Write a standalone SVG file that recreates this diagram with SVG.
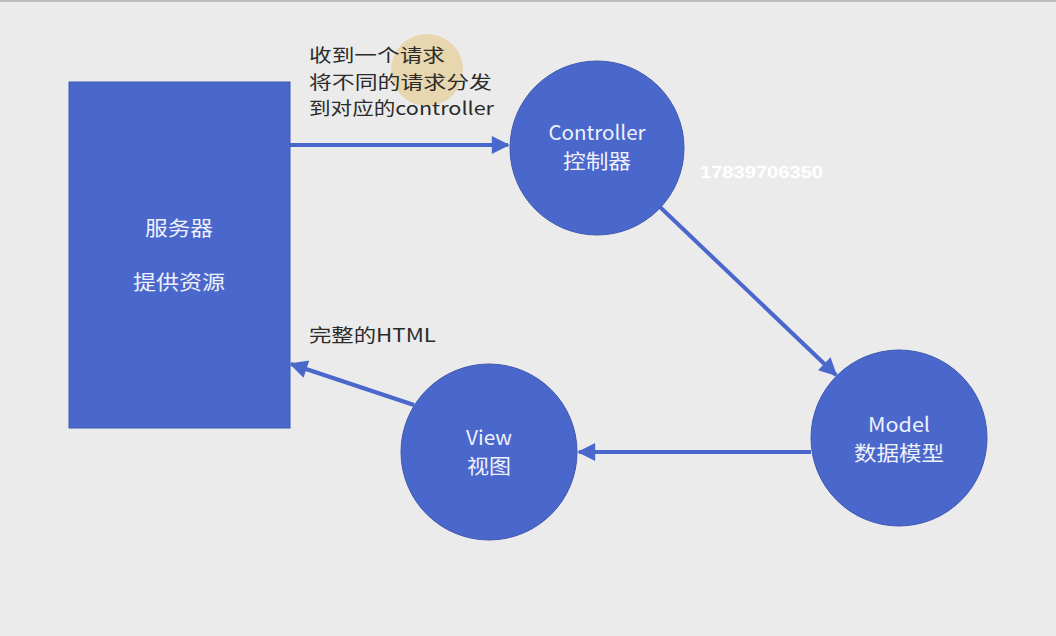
<svg xmlns="http://www.w3.org/2000/svg" width="1056" height="636" viewBox="0 0 1056 636">
<style>
.node{fill:#4a67cb;stroke:#3f58b0;stroke-width:1}
.lbl{font-family:"Noto Sans CJK SC","Liberation Sans",sans-serif;font-size:20px;fill:#eef1fb;text-anchor:middle}
.note{font-family:"Noto Sans CJK SC","Liberation Sans",sans-serif;font-size:18px;fill:#2b2b2b}
.conn{stroke:#4a67cb;stroke-width:4;fill:none}
</style>
<defs>
<marker id="ah" viewBox="0 0 10 10" refX="9" refY="5" markerWidth="4.8" markerHeight="4.5" markerUnits="strokeWidth" orient="auto">
<path d="M0,0 L10,5 L0,10 z" fill="#4a67cb"/>
</marker>
</defs>
<rect width="1056" height="636" fill="#ebebec"/>
<rect width="1056" height="2" fill="#bcbcbc"/>
<circle cx="427" cy="70" r="36" fill="#e3c270" fill-opacity="0.5"/>
<g id="connectors">
<line class="conn" x1="290" y1="145" x2="508" y2="145" marker-end="url(#ah)"/>
<line class="conn" x1="660" y1="207" x2="836" y2="375" marker-end="url(#ah)"/>
<line class="conn" x1="811" y1="452" x2="579" y2="452" marker-end="url(#ah)"/>
<line class="conn" x1="414" y1="405" x2="291" y2="364" marker-end="url(#ah)"/>
</g>
<g id="server">
<rect class="node" x="69" y="82" width="221" height="346"/>
<text class="lbl" x="179" y="236" textLength="68" lengthAdjust="spacingAndGlyphs">服务器</text>
<text class="lbl" x="179" y="290" textLength="92" lengthAdjust="spacingAndGlyphs">提供资源</text>
</g>
<g id="controller">
<circle class="node" cx="597" cy="148" r="87"/>
<text class="lbl" x="597" y="140" textLength="97" lengthAdjust="spacingAndGlyphs">Controller</text>
<text class="lbl" x="597" y="169" textLength="68" lengthAdjust="spacingAndGlyphs">控制器</text>
</g>
<g id="model">
<circle class="node" cx="899" cy="438" r="88"/>
<text class="lbl" x="899" y="432" textLength="62" lengthAdjust="spacingAndGlyphs">Model</text>
<text class="lbl" x="899" y="461" textLength="90" lengthAdjust="spacingAndGlyphs">数据模型</text>
</g>
<g id="view">
<circle class="node" cx="489" cy="452" r="88"/>
<text class="lbl" x="489" y="445" textLength="46" lengthAdjust="spacingAndGlyphs">View</text>
<text class="lbl" x="489" y="474" textLength="44" lengthAdjust="spacingAndGlyphs">视图</text>
</g>
<g id="notes">
<text class="note" x="309" y="62" textLength="136" lengthAdjust="spacingAndGlyphs">收到一个请求</text>
<text class="note" x="309" y="88.5" textLength="183" lengthAdjust="spacingAndGlyphs">将不同的请求分发</text>
<text class="note" x="309" y="115" textLength="185" lengthAdjust="spacingAndGlyphs">到对应的controller</text>
<text class="note" x="309" y="342" textLength="127" lengthAdjust="spacingAndGlyphs">完整的HTML</text>
<text x="700" y="178" font-family="'Liberation Sans',sans-serif" font-size="16" font-weight="bold" fill="#ffffff" textLength="123" lengthAdjust="spacingAndGlyphs">17839706350</text>
</g>
</svg>
